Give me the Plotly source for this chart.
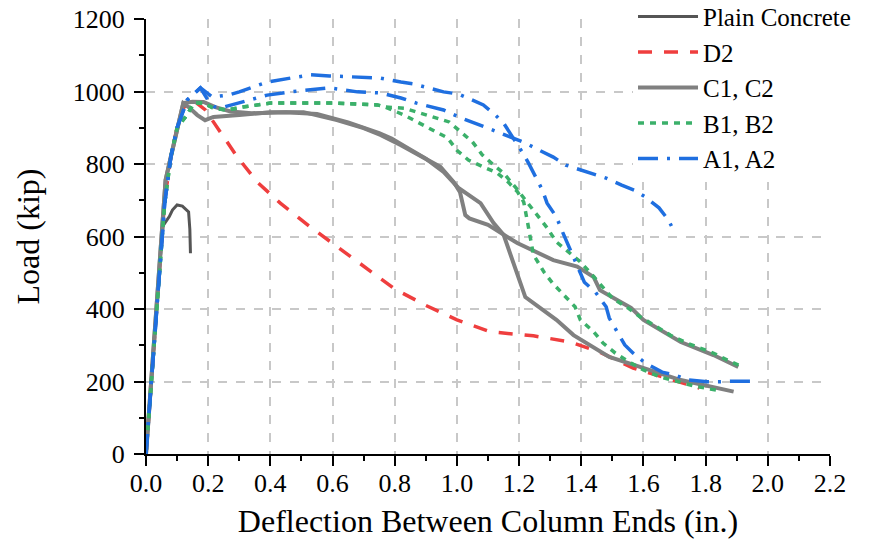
import plotly.graph_objects as go

# ---- data ----
plain_x = [0, 0.02, 0.04, 0.055, 0.063, 0.075, 0.085, 0.1, 0.117, 0.13, 0.137, 0.141, 0.143]
plain_y = [0, 240, 480, 630, 640, 655, 673, 687, 684, 675, 668, 620, 554]

d2_x = [0, 0.02, 0.04, 0.06, 0.08, 0.1, 0.12, 0.15, 0.19, 0.23, 0.294, 0.358, 0.432, 0.529,
        0.616, 0.732, 0.8, 0.9, 1.0, 1.108, 1.246, 1.365, 1.46, 1.567, 1.686, 1.78]
d2_y = [0, 230, 470, 700, 820, 900, 955, 977, 950, 899, 819, 750, 692, 626,
        571, 499, 455, 410, 370, 337, 326, 309, 281, 237, 207, 182]

c1_x = [0, 0.02, 0.04, 0.063, 0.08, 0.095, 0.12, 0.137, 0.165, 0.19, 0.217, 0.30, 0.40, 0.507,
        0.614, 0.70, 0.754, 0.82, 0.88, 0.947, 0.99, 1.01, 1.027, 1.04, 1.10, 1.15, 1.194, 1.31,
        1.387, 1.44, 1.46, 1.56, 1.60, 1.72, 1.825, 1.905]
c1_y = [0, 250, 500, 756, 820, 874, 968, 957, 935, 921, 930, 935, 943, 943,
        921, 899, 880, 852, 825, 792, 750, 722, 659, 650, 632, 605, 582, 535,
        517, 488, 452, 403, 370, 309, 273, 240]

c2_x = [0, 0.02, 0.04, 0.063, 0.08, 0.095, 0.12, 0.15, 0.185, 0.223, 0.272, 0.34, 0.45, 0.55,
        0.65, 0.75, 0.79, 0.84, 0.9, 0.957, 1.005, 1.076, 1.118, 1.15, 1.18, 1.204, 1.22, 1.32,
        1.375, 1.49, 1.60, 1.72, 1.89]
c2_y = [0, 250, 500, 756, 820, 874, 968, 972, 971, 957, 945, 940, 943, 938,
        915, 885, 870, 845, 815, 778, 734, 692, 637, 605, 530, 472, 433, 370,
        328, 268, 237, 204, 172]

b1_x = [0, 0.02, 0.04, 0.06, 0.08, 0.1, 0.127, 0.155, 0.185, 0.217, 0.26, 0.31, 0.40, 0.507,
        0.614, 0.744, 0.77, 0.83, 0.88, 0.925, 0.97, 1.0, 1.037, 1.085, 1.13, 1.165, 1.195,
        1.215, 1.22, 1.227, 1.246, 1.28, 1.307, 1.343, 1.38, 1.397, 1.44, 1.47, 1.51, 1.56,
        1.60, 1.655, 1.71, 1.762, 1.815, 1.846]
b1_y = [0, 230, 460, 690, 820, 900, 930, 968, 968, 954, 949, 957, 968, 968,
        968, 963, 957, 935, 913, 894, 872, 838, 811, 792, 775, 750, 723,
        695, 668, 640, 550, 502, 472, 439, 406, 370, 337, 306, 278, 251,
        232, 212, 199, 188, 179, 175]

b2_x = [0, 0.02, 0.04, 0.06, 0.08, 0.1, 0.127, 0.155, 0.185, 0.217, 0.26, 0.31, 0.40, 0.507,
        0.614, 0.744, 0.77, 0.83, 0.925, 0.975, 1.05, 1.082, 1.118, 1.15, 1.19, 1.225, 1.26,
        1.29, 1.32, 1.36, 1.397, 1.43, 1.47, 1.50, 1.55, 1.59, 1.645, 1.686, 1.74, 1.785,
        1.826, 1.87, 1.92]
b2_y = [0, 230, 460, 690, 820, 900, 930, 968, 968, 954, 949, 957, 968, 968,
        968, 963, 957, 954, 930, 916, 861, 825, 797, 775, 734, 695, 659,
        624, 585, 557, 530, 499, 461, 430, 403, 378, 350, 328, 306, 292,
        278, 259, 240]

a1_x = [0, 0.02, 0.04, 0.06, 0.08, 0.1, 0.133, 0.155, 0.175, 0.213, 0.265, 0.30, 0.39, 0.465,
        0.53, 0.59, 0.70, 0.754, 0.82, 0.86, 0.957, 1.005, 1.085, 1.124, 1.15, 1.18, 1.21,
        1.23, 1.25, 1.275, 1.29, 1.32, 1.34, 1.355, 1.375, 1.397, 1.41, 1.445, 1.48, 1.49,
        1.515, 1.54, 1.567, 1.606, 1.66, 1.70, 1.745, 1.805, 1.846, 1.89, 1.95]
a1_y = [0, 230, 460, 690, 820, 900, 977, 995, 1010, 985, 990, 999, 1026, 1037,
        1046, 1043, 1040, 1037, 1026, 1021, 999, 993, 963, 935, 913, 874, 833,
        803, 770, 728, 692, 654, 612, 582, 541, 502, 474, 447, 406, 375,
        337, 301, 278, 251, 226, 218, 204, 199, 199, 201, 201]

a2_x = [0, 0.02, 0.04, 0.06, 0.08, 0.1, 0.133, 0.155, 0.175, 0.20, 0.22, 0.25, 0.30, 0.39,
        0.465, 0.53, 0.59, 0.68, 0.754, 0.82, 0.87, 0.957, 1.005, 1.09, 1.14, 1.22, 1.27,
        1.31, 1.35, 1.40, 1.48, 1.53, 1.57, 1.606, 1.65, 1.68, 1.69]
a2_y = [0, 230, 460, 690, 820, 900, 977, 995, 1010, 975, 958, 957, 968, 990,
        999, 1004, 1010, 999, 996, 982, 968, 949, 930, 902, 885, 858, 836,
        819, 797, 783, 761, 742, 728, 709, 679, 646, 629]

x_ticks = [0.0, 0.2, 0.4, 0.6, 0.8, 1.0, 1.2, 1.4, 1.6, 1.8, 2.0, 2.2]
y_ticks = [0, 200, 400, 600, 800, 1000, 1200]

FONT = "Liberation Serif"

series = [
    ("Plain Concrete", [(plain_x, plain_y)], "#555555", 3, "solid"),
    ("D2", [(d2_x, d2_y)], "#EF3E3E", 3.5, "14px,12px"),
    ("C1, C2", [(c1_x, c1_y), (c2_x, c2_y)], "#808080", 4, "solid"),
    ("B1, B2", [(b1_x, b1_y), (b2_x, b2_y)], "#3BB06A", 3.5, "6px,6px"),
    ("A1, A2", [(a1_x, a1_y), (a2_x, a2_y)], "#1F6FE0", 3.5, "20px,9px,3px,9px"),
]

fig = go.Figure()
for name, curves, color, width, dash in series:
    for i, (xs, ys) in enumerate(curves):
        fig.add_trace(go.Scatter(
            x=xs, y=ys, mode="lines", name=name, legendgroup=name,
            showlegend=(i == 0),
            line=dict(color=color, width=width, dash=dash),
        ))

axis_common = dict(
    showline=True, linecolor="black", linewidth=2,
    ticks="outside", ticklen=10, tickwidth=2, tickcolor="black",
    showgrid=True, gridcolor="#c8c8c8", gridwidth=1.5, griddash="dash",
    zeroline=False, automargin=False,
    tickfont=dict(family=FONT, size=26, color="black"),
)

fig.update_layout(
    width=874, height=548,
    margin=dict(l=146, r=44, t=19, b=94, autoexpand=False),
    paper_bgcolor="white", plot_bgcolor="white",
    font=dict(family=FONT, color="black"),
    xaxis=dict(
        range=[0, 2.2], tickvals=x_ticks, tickformat=".1f",
        minor=dict(dtick=0.1, ticklen=5, tickwidth=2, tickcolor="black", ticks="outside", showgrid=False),
        title=dict(text="Deflection Between Column Ends (in.)", font=dict(family=FONT, size=32), standoff=12),
        ticklabelstandoff=-5,
        **axis_common,
    ),
    yaxis=dict(
        range=[0, 1200], tickvals=y_ticks,
        minor=dict(dtick=100, ticklen=5, tickwidth=2, tickcolor="black", ticks="outside", showgrid=False),
        title=dict(text="Load (kip)", font=dict(family=FONT, size=32), standoff=24),
        ticklabelstandoff=4,
        **axis_common,
    ),
    legend=dict(
        x=0.712, y=1.058, xanchor="left", yanchor="top",
        bgcolor="white", borderwidth=0,
        font=dict(family=FONT, size=25, color="black"),
        tracegroupgap=0, itemwidth=60,
    ),
)

fig.write_html("out.html")
